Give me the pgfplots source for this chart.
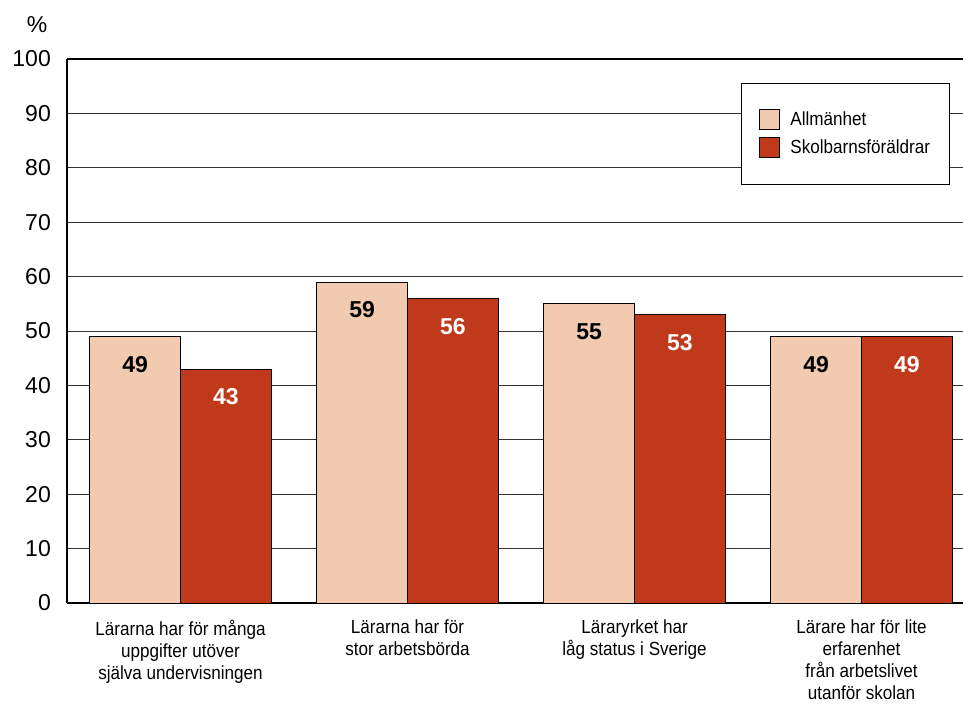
\documentclass[border=0pt]{standalone}
\usepackage{pgfplots}
\pgfplotsset{compat=1.18}
\usepackage{fontspec}
\setmainfont{Liberation Sans}
\newfontfamily\cond[FakeStretch=0.9]{Liberation Sans}
\definecolor{light}{RGB}{241,202,176}
\definecolor{dark}{RGB}{192,57,26}
\begin{document}
\begin{tikzpicture}
\begin{axis}[
  name=ax,
  scale only axis,
  width=896pt, height=544pt,
  ybar=0pt, bar width=90.7pt,
  xmin=-0.5, xmax=3.447,
  ymin=0, ymax=100,
  ytick={0,10,...,100},
  xtick=data,
  xticklabels={{Lärarna har för många\\uppgifter utöver\\själva undervisningen},
               {Lärarna har för\\stor arbetsbörda},
               {Läraryrket har\\låg status i Sverige},
               {Lärare har för lite\\erfarenhet\\från arbetslivet\\utanför skolan}},
  xticklabel style={align=center, font=\cond\fontsize{19pt}{22pt}\selectfont, inner sep=0pt, yshift=-17pt},
  yticklabel style={font=\fontsize{23pt}{26pt}\selectfont, inner sep=0pt, xshift=-16pt},
  /pgf/number format/assume math mode=true,
  major tick length=0pt,
  axis x line=bottom, axis y line=left,
  axis line style={-, line width=1.8pt},
  ymajorgrids,
  grid style={black!80, line width=0.9pt},
  legend style={at={(0.985,0.956)}, anchor=north east, draw=black, line width=0.8pt,
    font=\cond\fontsize{19pt}{22pt}\selectfont, inner xsep=17pt, inner ysep=26pt,
    row sep=7pt, cells={anchor=west},
    /tikz/every odd column/.append style={column sep=9pt}},
  legend image code/.code={\draw[#1, line width=0.8pt] (0pt,-10pt) rectangle (20pt,10pt);},
  legend cell align=left,
  nodes near coords,
  every node near coord/.append style={anchor=center, yshift=-28pt, font=\bfseries\fontsize{23pt}{26pt}\selectfont},
]
\addplot[fill=light, draw=black, line width=0.8pt, nodes near coords style={text=black}] coordinates {(0,49) (1,59) (2,55) (3,49)};
\addplot[fill=dark, draw=black, line width=0.8pt, nodes near coords style={text=white}] coordinates {(0,43) (1,56) (2,53) (3,49)};
\legend{Allmänhet, Skolbarnsföräldrar}
\end{axis}
\draw[line width=1.6pt] (ax.north west) -- (ax.north east);
\node[font=\fontsize{23pt}{26pt}\selectfont] at ([xshift=-30pt,yshift=34pt]ax.north west) {\%};
\pgfresetboundingbox
\path ([xshift=-67pt,yshift=-101pt]ax.south west) rectangle ([yshift=59pt]ax.north east);
\end{tikzpicture}
\end{document}
